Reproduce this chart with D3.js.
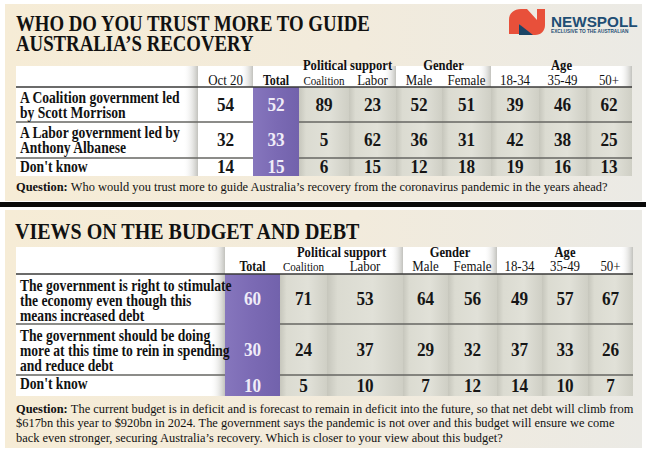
<!DOCTYPE html>
<html><head><meta charset="utf-8">
<script src="https://cdn.jsdelivr.net/npm/d3@7"></script>
<style>html,body{margin:0;padding:0;background:#fff;} svg{display:block;}</style>
</head><body><div id="chart"></div>
<script>
// ---------- DATA ----------
const title1 = ["WHO DO YOU TRUST MORE TO GUIDE", "AUSTRALIA\u2019S RECOVERY"];
const title2 = ["VIEWS ON THE BUDGET AND DEBT"];
const columns1 = ["Oct 20","Total","Coalition","Labor","Male","Female","18-34","35-49","50+"];
const columns2 = ["Total","Coalition","Labor","Male","Female","18-34","35-49","50+"];
const groupNames = ["Political support","Gender","Age"];
const groupCols = [["Coalition","Labor"],["Male","Female"],["18-34","35-49","50+"]];

const rowLabels1 = [["A Coalition government led","by Scott Morrison"],["A Labor government led by","Anthony Albanese"],["Don't know"]];
const oct20_1 = [54,32,14];
const total_1 = [52,33,15];
const coalition_1 = [89,5,6];
const labor_1 = [23,62,15];
const male_1 = [52,36,12];
const female_1 = [51,31,18];
const age1834_1 = [39,42,19];
const age3549_1 = [46,38,16];
const age50_1 = [62,25,13];
const question1 = ["Who would you trust more to guide Australia\u2019s recovery from the coronavirus pandemic in the years ahead?"];

const rowLabels2 = [["The government is right to stimulate","the economy even though this","means increased debt"],["The government should be doing","more at this time to rein in spending","and reduce debt"],["Don't know"]];
const total_2 = [60,30,10];
const coalition_2 = [71,24,5];
const labor_2 = [53,37,10];
const male_2 = [64,29,7];
const female_2 = [56,32,12];
const age1834_2 = [49,37,14];
const age3549_2 = [57,33,10];
const age50_2 = [67,26,7];
const question2 = ["The current budget is in deficit and is forecast to remain in deficit into the future, so that net debt will climb from",
  "$617bn this year to $920bn in 2024. The government says the pandemic is not over and this budget will ensure we come",
  "back even stronger, securing Australia\u2019s recovery. Which is closer to your view about this budget?"];

const values1 = {"Oct 20":oct20_1,"Total":total_1,"Coalition":coalition_1,"Labor":labor_1,"Male":male_1,"Female":female_1,"18-34":age1834_1,"35-49":age3549_1,"50+":age50_1};
const values2 = {"Total":total_2,"Coalition":coalition_2,"Labor":labor_2,"Male":male_2,"Female":female_2,"18-34":age1834_2,"35-49":age3549_2,"50+":age50_2};

// ---------- LAYOUT / STYLE ----------
const W = 650, H = 455;
const SERIF = "'Liberation Serif','Times New Roman',serif";
const SANS = "'Liberation Sans',Arial,sans-serif";
const L1 = {left:16, right:632, top:66, headLine:87, rowBottoms:[122,158,176], labelRight:198,
  widths:[55,46,50,47,46,49,48,47,46], groupY:70, subY:84.5, qY:[191], lineStep:15.3, firstLine:16};
const L2 = {left:16, right:633, top:247, headLine:274, rowBottoms:[324,375,396], labelRight:225,
  widths:[55,47,76,45,49,45,46,45], groupY:257, subY:271, qY:[412.5,427.3,442.2], lineStep:15.4, firstLine:16.5};

const svg = d3.select("#chart").append("svg").attr("width",W).attr("height",H);
const defs = svg.append("defs");
function lin(id, stops){
  const g = defs.append("linearGradient").attr("id",id).attr("x1",0).attr("x2",1).attr("y1",0).attr("y2",0);
  stops.forEach(s=>g.append("stop").attr("offset",s[0]).attr("stop-color",s[1]).attr("stop-opacity",s[2]===undefined?1:s[2]));
}
lin("panel",[[0,"#f6ecd6"],[0.55,"#f2ebdc"],[1,"#ebeae5"]]);
lin("cell",[[0,"#c6c6bc"],[0.14,"#dbdbd1"],[0.6,"#e1e1d8"],[1,"#cfcfc5"]]);
lin("fade",[[0,"#ffffff",0],[1,"#c2c2bd",1]]);
lin("purple",[[0,"#8676bd"],[0.5,"#7b6ab4"],[1,"#7262ac"]]);

svg.append("rect").attr("width",W).attr("height",H).attr("fill","#fff");
svg.append("rect").attr("x",5).attr("y",4).attr("width",637).attr("height",197).attr("fill","url(#panel)");
svg.append("rect").attr("x",5).attr("y",210).attr("width",637).attr("height",238).attr("fill","url(#panel)");
svg.append("rect").attr("x",0).attr("y",202).attr("width",646).attr("height",5).attr("fill","#0a0a0a");

function txt(g, x, y, s, o){
  return g.append("text")
    .attr("transform",`translate(${x},${y}) scale(${o.sx||1},1)`)
    .attr("text-anchor",o.anchor||"start")
    .style("font-family",o.family||SERIF)
    .style("font-size",(o.size||14)+"px")
    .style("font-weight",o.weight||"normal")
    .attr("fill",o.fill||"#111")
    .text(s);
}

// titles
title1.forEach((t,i)=>txt(svg,16,31+i*19.5,t,{size:23.5,weight:"bold",sx:0.8}));
title2.forEach((t,i)=>txt(svg,15,238.5+i*19.5,t,{size:23,weight:"bold",sx:0.87}));

// logo
const logo = svg.append("g");
logo.append("path").attr("d","M509,34 L509,20 C509,13 514,9 521,9 L527,9 L537,20 L537,9 L545,9 L545,25 C545,31 541,35 535,35 L529,35 L519,24 L519,34 Z").attr("fill","#e8503a");
logo.append("path").attr("d","M519,24 L533,35 L519,35 Z").attr("fill","#1c4566");
txt(logo,551,27,"NEWSPOLL",{family:SANS,size:15,weight:"bold",fill:"#1f4e74",sx:1.02});
txt(logo,551,33,"EXCLUSIVE TO THE AUSTRALIAN",{family:SANS,size:5,weight:"bold",fill:"#1f4e74",sx:0.95});

function drawTable(cols, vals, rows, L, questionLines){
  const g = svg.append("g");
  const lefts = d3.cumsum([L.labelRight, ...L.widths]);
  const x = d3.scaleOrdinal(cols, lefts.slice(0, cols.length));
  const w = d3.scaleOrdinal(cols, L.widths);
  const bottom = L.rowBottoms[L.rowBottoms.length-1];
  const rowTops = [L.headLine, ...L.rowBottoms.slice(0,-1)];
  const yTop = d3.scaleOrdinal(d3.range(rows.length), rowTops);
  const yBot = d3.scaleOrdinal(d3.range(rows.length), L.rowBottoms);
  const inGroup = c => groupCols.some(gc=>gc.includes(c));

  g.append("rect").attr("x",L.left).attr("y",L.top).attr("width",L.right-L.left).attr("height",bottom-L.top).attr("fill","#fff");
  // grey body cells
  g.selectAll(".cell").data(cols.filter(inGroup)).join("rect")
    .attr("x",c=>x(c)).attr("y",L.headLine).attr("width",c=>w(c)).attr("height",bottom-L.headLine).attr("fill","url(#cell)");
  // label column fade
  g.append("rect").attr("x",L.labelRight-15).attr("y",L.top).attr("width",15).attr("height",bottom-L.top).attr("fill","url(#fade)");
  // header fades at group ends
  const ends = groupCols.map(gc=>x(gc[gc.length-1])+w(gc[gc.length-1]));
  if (cols.includes("Oct 20")) ends.push(x("Total"));
  g.selectAll(".hf").data(ends).join("rect")
    .attr("x",d=>d-13).attr("y",L.top).attr("width",13).attr("height",L.headLine-L.top).attr("fill","url(#fade)");
  // row separators
  g.selectAll(".rl").data(L.rowBottoms.slice(0,-1)).join("line")
    .attr("x1",L.left).attr("x2",L.right).attr("y1",d=>d).attr("y2",d=>d)
    .attr("stroke","#666662").attr("stroke-width",1.4);
  // purple Total column
  g.append("rect").attr("x",x("Total")).attr("y",L.headLine).attr("width",w("Total")).attr("height",bottom-L.headLine).attr("fill","url(#purple)");
  // header line
  g.append("line").attr("x1",L.left).attr("x2",L.right).attr("y1",L.headLine).attr("y2",L.headLine).attr("stroke","#3a3a38").attr("stroke-width",1.6);

  // header texts
  groupNames.forEach((name,i)=>{
    const gc = groupCols[i];
    const cx = (x(gc[0]) + x(gc[gc.length-1]) + w(gc[gc.length-1]))/2;
    txt(g,cx,L.groupY,name,{size:15,weight:"bold",anchor:"middle",sx:0.84});
  });
  cols.forEach(c=>{
    const cx = x(c)+w(c)/2;
    if (c==="Total") txt(g,cx,L.subY,c,{size:15,weight:"bold",anchor:"middle",sx:0.8});
    else if (c==="Coalition") txt(g,cx,L.subY,c,{size:13.5,anchor:"middle",sx:0.82});
    else txt(g,cx,L.subY,c,{size:15,anchor:"middle",sx:0.86});
  });
  // row labels
  rows.forEach((lines,r)=>{
    lines.forEach((s,k)=>txt(g,20,yTop(r)+(lines.length===1?14:L.firstLine)+k*L.lineStep,s,{size:16,weight:"bold",sx:0.85}));
  });
  // values
  cols.forEach(c=>{
    vals[c].forEach((v,r)=>{
      const cy = (yTop(r)+yBot(r))/2;
      txt(g,x(c)+w(c)/2,cy+6.2,v,{size:18.5,weight:"bold",anchor:"middle",sx:0.93,fill:c==="Total"?"#f0ecf8":"#161616"});
    });
  });
  // question
  questionLines.forEach((s,k)=>{
    const t = g.append("text").attr("transform",`translate(16,${L.qY[k]}) scale(0.92,1)`)
      .style("font-family",SERIF).style("font-size","13.5px").attr("fill","#111");
    if (k===0) t.append("tspan").style("font-weight","bold").text("Question: ");
    t.append("tspan").text(s);
  });
}

drawTable(columns1, values1, rowLabels1, L1, question1);
drawTable(columns2, values2, rowLabels2, L2, question2);
</script></body></html>
